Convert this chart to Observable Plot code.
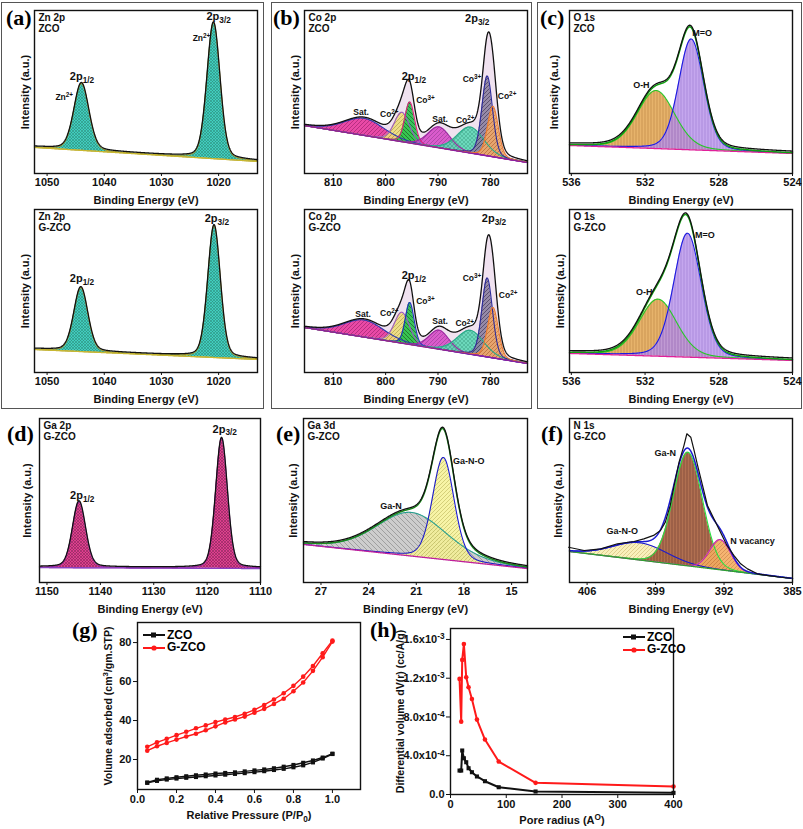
<!DOCTYPE html>
<html><head><meta charset="utf-8">
<script src="https://cdn.jsdelivr.net/npm/d3@7"></script>
<script src="https://cdn.jsdelivr.net/npm/@observablehq/plot@0.6"></script>
<style>
body{margin:0;background:#fff;}
#fig{position:relative;width:803px;height:829px;overflow:hidden;font-family:"Liberation Sans",Arial,sans-serif;}
.box{position:absolute;border:1.5px solid #555;box-sizing:border-box;}
.tag{position:absolute;font-family:"Liberation Serif","Times New Roman",serif;font-weight:bold;font-size:22px;line-height:1;}
.plot{position:absolute;}
.leg{position:absolute;font-weight:bold;font-size:12px;}
</style></head><body>
<svg width="0" height="0" style="position:absolute">
<defs>
<pattern id="pTeal" width="3" height="3" patternUnits="userSpaceOnUse"><rect width="3" height="3" fill="#2cc8b6"/><path d="M0,0L3,3M3,0L0,3" stroke="#16806f" stroke-width="0.6"/></pattern>
<pattern id="pPink" width="4" height="4" patternUnits="userSpaceOnUse"><rect width="4" height="4" fill="#e8389e"/><path d="M0,4L4,0" stroke="#9a1064" stroke-width="0.7"/></pattern>
<pattern id="pYellow" width="4" height="4" patternUnits="userSpaceOnUse"><rect width="4" height="4" fill="#eedc7a"/><path d="M0,4L4,0" stroke="#a89a3a" stroke-width="0.7"/></pattern>
<pattern id="pGreen" width="4" height="4" patternUnits="userSpaceOnUse"><rect width="4" height="4" fill="#24c24c"/><path d="M0,0L4,4" stroke="#0a5a1c" stroke-width="0.8"/></pattern>
<pattern id="pMag2" width="4" height="4" patternUnits="userSpaceOnUse"><rect width="4" height="4" fill="#d84cc8"/><path d="M0,4L4,0" stroke="#8a2a88" stroke-width="0.6"/></pattern>
<pattern id="pAqua" width="4" height="4" patternUnits="userSpaceOnUse"><rect width="4" height="4" fill="#5ed8b6"/><path d="M0,0L4,4M4,0L0,4" stroke="#2a9a7a" stroke-width="0.5"/></pattern>
<pattern id="pGray" width="4" height="4" patternUnits="userSpaceOnUse"><rect width="4" height="4" fill="#8c80a0"/><path d="M0,4L4,0" stroke="#3a3050" stroke-width="0.8"/></pattern>
<pattern id="pOrange" width="4" height="4" patternUnits="userSpaceOnUse"><rect width="4" height="4" fill="#f0a868"/><path d="M0,4L4,0" stroke="#c06830" stroke-width="0.7"/></pattern>
<pattern id="pOrangeV" width="3" height="4" patternUnits="userSpaceOnUse"><rect width="3" height="4" fill="#e2a24a"/><path d="M1,0L1,4" stroke="#b0701c" stroke-width="0.7"/></pattern>
<pattern id="pLav" width="3" height="4" patternUnits="userSpaceOnUse"><rect width="3" height="4" fill="#b894ea"/><path d="M1,0L1,4" stroke="#8a60cc" stroke-width="0.7"/></pattern>
<pattern id="pMag" width="3" height="3" patternUnits="userSpaceOnUse"><rect width="3" height="3" fill="#dc2a82"/><path d="M0,0L3,3M3,0L0,3" stroke="#7a1048" stroke-width="0.6"/></pattern>
<pattern id="pGrayE" width="5" height="5" patternUnits="userSpaceOnUse"><rect width="5" height="5" fill="#c4c4c4"/><path d="M0,0L5,5" stroke="#6a6a6a" stroke-width="0.6"/></pattern>
<pattern id="pYelE" width="4" height="4" patternUnits="userSpaceOnUse"><rect width="4" height="4" fill="#f6f296"/><path d="M0,4L4,0" stroke="#b0aa40" stroke-width="0.6"/></pattern>
<pattern id="pYelF" width="4" height="4" patternUnits="userSpaceOnUse"><rect width="4" height="4" fill="#f8eeb4"/><path d="M0,4L4,0" stroke="#c8b060" stroke-width="0.6"/></pattern>
<pattern id="pBrown" width="3" height="4" patternUnits="userSpaceOnUse"><rect width="3" height="4" fill="#a8603e"/><path d="M1,0L1,4" stroke="#6a3020" stroke-width="0.7"/></pattern>
<pattern id="pOrF" width="4" height="4" patternUnits="userSpaceOnUse"><rect width="4" height="4" fill="#f4ac62"/><path d="M0,4L4,0" stroke="#c07030" stroke-width="0.6"/></pattern>
</defs></svg>
<div id="fig"></div>
<script>
// ================= DATA =================
// (a) Zn 2p  — binding energy (eV), intensity (a.u., 0-100 frame units)
const znTicks = [1050, 1040, 1030, 1020];
const znDomain = [1052.2, 1013.2];
const znZcoBase = [16.0, 7.4];
const znZcoCenter = [1044.0, 1020.9];
const znZcoHeight = [41.0, 83.3];
const znZcoFwhm = [3.1, 2.7];
const znZcoLabelText = ["2p_{1/2}", "Zn^{2+}", "2p_{3/2}", "Zn^{2+}"];
const znZcoLabelBE = [1043.9, 1047.0, 1020.0, 1023.0];
const znZcoLabelI = [59.5, 46.8, 96.3, 83.2];
const znGzcoBase = [14.1, 8.0];
const znGzcoCenter = [1044.1, 1020.8];
const znGzcoHeight = [39.2, 80.9];
const znGzcoFwhm = [2.9, 2.6];
const znGzcoLabelText = ["2p_{1/2}", "2p_{3/2}"];
const znGzcoLabelBE = [1043.9, 1020.3];
const znGzcoLabelI = [57.5, 94.3];

// (b) Co 2p
const coTicks = [810, 800, 790, 780];
const coDomain = [815.5, 772.9];
const coNames = ["Sat.", "Co2+", "Co3+", "Sat.", "Co2+", "Co3+", "Co2+"];
const coCenter = [804.1, 796.9, 795.4, 789.8, 783.8, 780.6, 779.5];
const coZcoBase = [29.4, 6.7];
const coZcoHeight = [10.5, 18.1, 25.2, 12.9, 16.0, 49.0, 31.0];
const coZcoFwhm = [9.0, 3.4, 2.2, 5.0, 6.0, 2.4, 2.4];
const coGzcoBase = [27.6, 5.5];
const coGzcoHeight = [10.5, 19.0, 25.8, 11.7, 14.7, 48.5, 31.0];
const coGzcoFwhm = [9.0, 3.4, 2.0, 4.5, 6.0, 2.4, 2.4];
const coZcoLabelText = ["2p_{3/2}", "Co^{3+}", "Co^{2+}", "2p_{1/2}", "Co^{3+}", "Co^{2+}", "Sat.", "Sat.", "Co^{2+}"];
const coZcoLabelBE = [782.5, 783.5, 776.8, 794.6, 792.4, 799.3, 804.7, 789.6, 784.8];
const coZcoLabelI = [94.9, 58.1, 47.2, 59.5, 45.2, 36.6, 37.6, 33.1, 32.9];
const coGzcoLabelText = ["2p_{3/2}", "Co^{3+}", "Co^{2+}", "2p_{1/2}", "Co^{3+}", "Co^{2+}", "Sat.", "Sat.", "Co^{2+}"];
const coGzcoLabelBE = [779.3, 783.5, 776.6, 794.6, 792.4, 799.3, 804.3, 789.6, 784.9];
const coGzcoLabelI = [94.3, 57.9, 47.6, 59.5, 43.6, 36.6, 35.6, 31.3, 29.9];

// (c) O 1s
const oTicks = [536, 532, 528, 524];
const oDomain = [536.1, 524.0];
const oZcoBase = [17.2, 12.3];
const oZcoCenter = [531.4, 529.5];
const oZcoHeight = [35.6, 68.0];
const oZcoFwhm = [2.4, 1.6];
const oZcoLabelText = ["O-H", "M=O"];
const oZcoLabelBE = [532.2, 528.9];
const oZcoLabelI = [54.0, 86.3];
const oGzcoBase = [11.7, 7.4];
const oGzcoCenter = [531.3, 529.7];
const oGzcoHeight = [35.0, 76.0];
const oGzcoFwhm = [2.4, 1.75];
const oGzcoLabelText = ["O-H", "M=O"];
const oGzcoLabelBE = [532.05, 528.75];
const oGzcoLabelI = [49.3, 84.5];

// (d) Ga 2p
const ga2pTicks = [1150, 1140, 1130, 1120, 1110];
const ga2pDomain = [1151.4, 1110];
const ga2pBase = [9.1, 8.5];
const ga2pCenter = [1144.0, 1117.3];
const ga2pHeight = [40.2, 79.3];
const ga2pFwhm = [2.9, 2.6];
const ga2pLabelText = ["2p_{1/2}", "2p_{3/2}"];
const ga2pLabelBE = [1143.4, 1116.7];
const ga2pLabelI = [53.0, 93.3];

// (e) Ga 3d
const ga3dTicks = [27, 24, 21, 18, 15];
const ga3dDomain = [28.1, 14.0];
const ga3dBase = [23.2, 8.5];
const ga3dCenter = [21.3, 19.3];
const ga3dHeight = [26.6, 62.2];
const ga3dFwhm = [5.2, 1.6];
const ga3dLabelText = ["Ga-N", "Ga-N-O"];
const ga3dLabelBE = [22.6, 17.7];
const ga3dLabelI = [46.3, 73.8];

// (f) N 1s
const n1sTicks = [406, 399, 392, 385];
const n1sDomain = [407.8, 385];
const n1sBase = [18.9, 2.4];
const n1sCenter = [400.6, 395.7, 392.4];
const n1sHeight = [10.5, 69.3, 18.4];
const n1sFwhm = [6.5, 3.5, 2.5];
const n1sRawBE = [407.9, 406.3, 404.6, 402.9, 401.2, 400.2, 399.2, 398.5, 398.0, 397.5, 397.1, 396.6, 396.1, 395.8, 395.4, 395.1, 394.7, 394.2, 393.7, 393.2, 392.7, 392.2, 391.7, 391.0, 390.3, 389.6, 388.6, 387.6, 386.2, 385.2];
const n1sRawI = [21.5, 19.5, 20.5, 23.6, 25.0, 26.6, 28.7, 31.7, 36.8, 47.0, 59.2, 73.4, 83.5, 90.7, 88.6, 81.5, 71.3, 59.2, 47.0, 40.9, 34.8, 28.7, 22.6, 16.5, 11.4, 8.3, 5.3, 4.3, 3.2, 2.6];
const n1sLabelText = ["Ga-N", "Ga-N-O", "N vacancy"];
const n1sLabelBE = [398.0, 402.4, 389.1];
const n1sLabelI = [79.1, 31.1, 25.0];

// (g) N2 isotherms
const relP = [0.05, 0.10, 0.15, 0.20, 0.25, 0.30, 0.35, 0.40, 0.45, 0.50, 0.55, 0.60, 0.65, 0.70, 0.75, 0.80, 0.85, 0.90, 0.95, 1.00];
const zcoAds = [8.0, 9.0, 9.7, 10.2, 10.6, 11.0, 11.4, 11.8, 12.2, 12.6, 13.0, 13.5, 14.0, 14.6, 15.2, 16.0, 17.0, 18.5, 20.5, 22.8];
const zcoDes = [8.2, 9.6, 10.3, 10.9, 11.4, 11.9, 12.3, 12.8, 13.1, 13.4, 13.9, 14.4, 14.9, 15.5, 16.3, 17.2, 18.3, 19.5, 21.0, 23.0];
const gzcoAds = [24.5, 26.8, 28.5, 30.2, 31.8, 33.2, 35.0, 37.0, 39.0, 40.5, 42.0, 44.0, 46.0, 48.5, 51.2, 55.0, 59.5, 65.5, 72.5, 80.5];
const gzcoDes = [26.5, 28.8, 30.6, 32.5, 34.2, 36.0, 37.5, 39.2, 40.5, 41.8, 43.5, 45.5, 48.0, 50.8, 54.0, 57.8, 62.5, 68.0, 74.5, 81.0];
const gTicksX = [0, 0.2, 0.4, 0.6, 0.8, 1.0];
const gTicksY = [20, 40, 60, 80];

// (h) pore size distribution
const poreR = [16.2, 19.2, 21.0, 24.0, 28.2, 32.4, 38.4, 47.4, 61.8, 86.5, 152.6, 400];
const zcoDV = [0.247e-3, 0.247e-3, 0.454e-3, 0.374e-3, 0.333e-3, 0.271e-3, 0.230e-3, 0.186e-3, 0.137e-3, 0.075e-3, 0.031e-3, 0.017e-3];
const gzcoDV = [1.193e-3, 0.752e-3, 1.389e-3, 1.553e-3, 1.210e-3, 1.106e-3, 0.986e-3, 0.773e-3, 0.567e-3, 0.340e-3, 0.120e-3, 0.082e-3];
const hTicksX = [0, 100, 200, 300, 400];
const hTicksY = [0, 4e-4, 8e-4, 1.2e-3, 1.6e-3];
const hTickLabels = ["0.0", "4.0x10^{-4}", "8.0x10^{-4}", "1.2x10^{-3}", "1.6x10^{-3}"];

// ================= RENDER =================
const FONT = '"Liberation Sans", Arial, Helvetica, sans-serif';
const NS = "http://www.w3.org/2000/svg";
const fig = document.getElementById("fig");

function pv(x, c, h, w, eta) { const u = (x - c) / w; return h * ((1 - eta) * Math.exp(-4 * Math.LN2 * u * u) + eta / (1 + 4 * u * u)); }

function richText(svg) {
  svg.querySelectorAll("text").forEach(t => {
    const tsp = [...t.querySelectorAll("tspan")];
    const leaves = tsp.length ? tsp : [t];
    leaves.forEach(el => {
      const s = el.textContent;
      if (!/[_^]\{/.test(s)) return;
      el.textContent = "";
      const re = /([_^])\{([^}]*)\}/g;
      let last = 0, m, pending = 0;
      const add = (txt, dy, small) => {
        const sp = document.createElementNS(NS, "tspan");
        sp.textContent = txt;
        if (dy) sp.setAttribute("dy", dy + "em");
        if (small) sp.setAttribute("font-size", "75%");
        el.appendChild(sp);
      };
      while ((m = re.exec(s))) {
        if (m.index > last) { add(s.slice(last, m.index), pending, false); pending = 0; }
        if (m[1] === "_") { add(m[2], 0.3 + pending / 0.75, true); pending = -0.225; }
        else { add(m[2], -0.45 + pending / 0.75, true); pending = 0.34; }
        last = re.lastIndex;
      }
      if (last < s.length) add(s.slice(last), pending, false);
    });
  });
}

function place(svg, left, top) {
  svg.classList.add("plot");
  svg.style.position = "absolute";
  svg.style.left = left + "px";
  svg.style.top = top + "px";
  richText(svg);
  fig.appendChild(svg);
}

function labelSize(t) { return t.startsWith("2p") ? 11 : (t.startsWith("Co") || t.startsWith("Zn") || t === "Sat.") ? 8.5 : 9; }

const yLab = (txt, dx, size) => Plot.text([txt], {text: d => d, frameAnchor: "left", textAnchor: "middle", lineAnchor: "middle", rotate: -90, dx, fontSize: size});
const xLab = (txt, dy) => Plot.text([txt], {text: d => d, frameAnchor: "bottom", textAnchor: "middle", lineAnchor: "middle", dy, fontSize: 11});

function xps(o) {
  const [fl, ft, fr, fb] = o.frame;
  const mL = 30, mR = 6, mT = 2, mB = 36;
  const [d0, d1] = o.domain;
  const eta = o.eta ?? 0.2;
  const base = x => o.base[0] + (o.base[1] - o.base[0]) * (x - d0) / (d1 - d0);
  const lo = Math.min(d0, d1), hi = Math.max(d0, d1);
  const grid = d3.range(0, 601).map(i => lo + (hi - lo) * i / 600);
  const n = o.center.length;
  const comp = (k, x) => pv(x, o.center[k], o.height[k], o.fwhm[k], eta);
  const env = x => base(x) + d3.sum(d3.range(n), k => comp(k, x));
  const marks = [];
  if (o.envFill) marks.push(Plot.areaY(grid, {x: d => d, y1: base, y2: env, fill: o.envFill}));
  for (let k = 0; k < n; k++)
    marks.push(Plot.areaY(grid, {x: d => d, y1: base, y2: d => base(d) + comp(k, d), fill: o.fills[k], fillOpacity: o.fillOpacity ?? 0.9}));
  for (let k = 0; k < n; k++)
    marks.push(Plot.line(grid, {x: d => d, y: d => base(d) + comp(k, d), stroke: o.strokes[k], strokeWidth: 1.1}));
  marks.push(Plot.line(grid, {x: d => d, y: base, stroke: o.baseStroke, strokeWidth: 1.3}));
  if (o.envStroke) marks.push(Plot.line(grid, {x: d => d, y: env, stroke: o.envStroke, strokeWidth: 1.5}));
  if (o.rawX) {
    const raw = o.rawX.map((x, i) => ({x, y: o.rawY[i]}));
    marks.push(Plot.line(raw, {x: "x", y: "y", stroke: "#111", strokeWidth: 1.2}));
  } else {
    marks.push(Plot.line(grid, {x: d => d, y: env, stroke: "#111", strokeWidth: 1.3, dy: o.rawDy ?? -1}));
  }
  marks.push(Plot.frame({stroke: "#111", strokeWidth: 1.4}));
  marks.push(Plot.axisX({ticks: o.ticks, tickSize: 3, tickPadding: 2, tickFormat: d => String(d), label: null}));
  marks.push(Plot.text([o.title], {text: d => d, frameAnchor: "top-left", textAnchor: "start", lineAnchor: "top", dx: 4, dy: 3, fontSize: 10, lineHeight: 1.1}));
  marks.push(yLab("Intensity (a.u.)", o.ylabDx, 11));
  marks.push(xLab("Binding Energy (eV)", 27));
  const labs = o.labText.map((t, i) => ({t, x: o.labX[i], y: o.labY[i]}));
  marks.push(Plot.text(labs, {x: "x", y: "y", text: "t", fontSize: d => labelSize(d.t)}));
  const svg = Plot.plot({
    width: fr - fl + mL + mR, height: fb - ft + mT + mB,
    marginLeft: mL, marginRight: mR, marginTop: mT, marginBottom: mB,
    x: {domain: o.domain}, y: {domain: [0, 100], axis: null},
    style: {fontFamily: FONT, fontWeight: "bold", fontSize: "11px", background: "transparent", color: "#111", overflow: "visible"},
    marks
  });
  place(svg, fl - mL, ft - mT);
}

// panel boxes and tags
function box(l, t, w, h) { const d = document.createElement("div"); d.className = "box"; Object.assign(d.style, {left: l + "px", top: t + "px", width: w + "px", height: h + "px"}); fig.appendChild(d); }
function tag(txt, l, t) { const d = document.createElement("div"); d.className = "tag"; d.textContent = txt; Object.assign(d.style, {left: l + "px", top: t + "px"}); fig.appendChild(d); }
box(1, 2, 263, 407); box(271, 2, 261, 407); box(537, 2, 265, 407);

const aFills = ["url(#pTeal)", "url(#pTeal)"], aStrokes = ["#a8982a", "#a8982a"];
xps({frame: [34, 10, 257, 173], domain: znDomain, ticks: znTicks, base: znZcoBase, center: znZcoCenter, height: znZcoHeight, fwhm: znZcoFwhm,
  fills: aFills, strokes: aStrokes, baseStroke: "#c8b832", title: "Zn 2p\nZCO", ylabDx: -9, labText: znZcoLabelText, labX: znZcoLabelBE, labY: znZcoLabelI});
xps({frame: [34, 209, 257, 372], domain: znDomain, ticks: znTicks, base: znGzcoBase, center: znGzcoCenter, height: znGzcoHeight, fwhm: znGzcoFwhm,
  fills: aFills, strokes: aStrokes, baseStroke: "#c8b832", title: "Zn 2p\nG-ZCO", ylabDx: -9, labText: znGzcoLabelText, labX: znGzcoLabelBE, labY: znGzcoLabelI});

const bFills = ["url(#pPink)", "url(#pYellow)", "url(#pGreen)", "url(#pMag2)", "url(#pAqua)", "url(#pGray)", "url(#pOrange)"];
const bStrokes = ["#2c3cb0", "#9a58c8", "#e0207a", "#9a2aa0", "#2aa888", "#2a2a9a", "#e87830"];
xps({frame: [304, 10, 527, 173], domain: coDomain, ticks: coTicks, base: coZcoBase, center: coCenter, height: coZcoHeight, fwhm: coZcoFwhm,
  fills: bFills, strokes: bStrokes, envFill: "#f0e2f0", baseStroke: "#8a20a0", title: "Co 2p\nZCO", ylabDx: -9, labText: coZcoLabelText, labX: coZcoLabelBE, labY: coZcoLabelI, rawDy: -0.5});
xps({frame: [304, 209, 527, 372], domain: coDomain, ticks: coTicks, base: coGzcoBase, center: coCenter, height: coGzcoHeight, fwhm: coGzcoFwhm,
  fills: bFills, strokes: ["#2c3cb0", "#9a58c8", "#2030c0", "#9a2aa0", "#2aa888", "#2a2a9a", "#e87830"], envFill: "#f0e2f0", baseStroke: "#8a20a0", title: "Co 2p\nG-ZCO", ylabDx: -9, labText: coGzcoLabelText, labX: coGzcoLabelBE, labY: coGzcoLabelI, rawDy: -0.5});

const cFills = ["url(#pOrangeV)", "url(#pLav)"], cStrokes = ["#28c828", "#1a1ae0"];
xps({frame: [569, 10, 792, 173], domain: oDomain, ticks: oTicks, base: oZcoBase, center: oZcoCenter, height: oZcoHeight, fwhm: oZcoFwhm,
  fills: cFills, strokes: cStrokes, envStroke: "#10a010", baseStroke: "#e0209a", fillOpacity: 0.82, title: "O 1s\nZCO", ylabDx: -15, labText: oZcoLabelText, labX: oZcoLabelBE, labY: oZcoLabelI, rawDy: -1.6});
xps({frame: [569, 209, 792, 372], domain: oDomain, ticks: oTicks, base: oGzcoBase, center: oGzcoCenter, height: oGzcoHeight, fwhm: oGzcoFwhm,
  fills: cFills, strokes: cStrokes, envStroke: "#10a010", baseStroke: "#e0209a", fillOpacity: 0.82, title: "O 1s\nG-ZCO", ylabDx: -9, labText: oGzcoLabelText, labX: oGzcoLabelBE, labY: oGzcoLabelI, rawDy: -1.6});

xps({frame: [39, 418, 260, 582], domain: ga2pDomain, ticks: ga2pTicks, base: ga2pBase, center: ga2pCenter, height: ga2pHeight, fwhm: ga2pFwhm,
  fills: ["url(#pMag)", "url(#pMag)"], strokes: ["#9a2aa8", "#9a2aa8"], baseStroke: "#8a40c0", title: "Ga 2p\nG-ZCO", ylabDx: -12, labText: ga2pLabelText, labX: ga2pLabelBE, labY: ga2pLabelI});
xps({frame: [303, 418, 527, 582], domain: ga3dDomain, ticks: ga3dTicks, base: ga3dBase, center: ga3dCenter, height: ga3dHeight, fwhm: ga3dFwhm,
  fills: ["url(#pGrayE)", "url(#pYelE)"], strokes: ["#2aa090", "#1a1ad0"], envStroke: "#1a8a1a", baseStroke: "#c0209a", fillOpacity: 0.85, title: "Ga 3d\nG-ZCO", ylabDx: -10, labText: ga3dLabelText, labX: ga3dLabelBE, labY: ga3dLabelI, rawDy: -1.3});
xps({frame: [569, 418, 792, 582], domain: n1sDomain, ticks: n1sTicks, base: n1sBase, center: n1sCenter, height: n1sHeight, fwhm: n1sFwhm, eta: 0.05,
  fills: ["url(#pYelF)", "url(#pBrown)", "url(#pOrF)"], strokes: ["#1a1ad0", "#28e040", "#c020c0"], envStroke: "#1a1ad0", baseStroke: "#30a030", fillOpacity: 0.9, title: "N 1s\nG-ZCO", ylabDx: -11, labText: n1sLabelText, labX: n1sLabelBE, labY: n1sLabelI, rawX: n1sRawBE, rawY: n1sRawI});

tag("(a)", 6, 7); tag("(b)", 273, 7); tag("(c)", 540, 7);
tag("(d)", 7, 423); tag("(e)", 276, 423); tag("(f)", 541, 423);
tag("(g)", 72, 619); tag("(h)", 370, 619);

// (g) isotherm
(function () {
  const fl = 137, ft = 622, fr = 360, fb = 789, mL = 60, mR = 6, mT = 2, mB = 34;
  const mk = (ys) => relP.map((p, i) => ({x: p, y: ys[i]}));
  const series = [[zcoAds, "#111", "square"], [zcoDes, "#111", "square"], [gzcoAds, "#ff1a1a", "circle"], [gzcoDes, "#ff1a1a", "circle"]];
  const marks = [];
  series.forEach(([ys, c]) => marks.push(Plot.line(mk(ys), {x: "x", y: "y", stroke: c, strokeWidth: 1.4})));
  series.forEach(([ys, c, s]) => marks.push(Plot.dot(mk(ys), {x: "x", y: "y", fill: c, symbol: s, r: 2.3})));
  marks.push(Plot.frame({stroke: "#111", strokeWidth: 1.4}));
  marks.push(Plot.axisX({ticks: gTicksX, tickSize: 4, tickPadding: 2, tickFormat: d => d.toFixed(1), label: null}));
  marks.push(Plot.axisY({ticks: gTicksY, tickSize: 4, tickPadding: 2, tickFormat: d => String(d), label: null}));
  marks.push(xLab("Relative Pressure (P/P_{0})", 26));
  marks.push(yLab("Volume adsorbed (cm^{3}/gm.STP)", -29, 10.5));
  const svg = Plot.plot({
    width: fr - fl + mL + mR, height: fb - ft + mT + mB, marginLeft: mL, marginRight: mR, marginTop: mT, marginBottom: mB,
    x: {domain: [0, 1.144]}, y: {domain: [4.6, 90.3]},
    style: {fontFamily: FONT, fontWeight: "bold", fontSize: "11px", background: "transparent", color: "#111", overflow: "visible"},
    marks
  });
  place(svg, fl - mL, ft - mT);
})();

// (h) pore size distribution
(function () {
  const fl = 450, ft = 628, fr = 673, fb = 794, mL = 72, mR = 6, mT = 2, mB = 34;
  const z = poreR.map((r, i) => ({x: r, y: zcoDV[i]}));
  const g = poreR.map((r, i) => ({x: r, y: gzcoDV[i]}));
  const marks = [
    Plot.line(z, {x: "x", y: "y", stroke: "#111", strokeWidth: 2}),
    Plot.line(g, {x: "x", y: "y", stroke: "#ff1a1a", strokeWidth: 2}),
    Plot.dot(z, {x: "x", y: "y", fill: "#111", symbol: "square", r: 2.3}),
    Plot.dot(g, {x: "x", y: "y", fill: "#ff1a1a", symbol: "circle", r: 2.3}),
    Plot.frame({stroke: "#111", strokeWidth: 1.4}),
    Plot.axisX({ticks: hTicksX, tickSize: 4, tickPadding: 2, tickFormat: d => String(d), label: null}),
    Plot.axisY({ticks: hTicksY, tickSize: 4, tickPadding: 2, tickFormat: d => hTickLabels[hTicksY.indexOf(d)], label: null}),
    xLab("Pore radius (A^{O})", 26),
    yLab("Differential volume dV(r) (cc/A/g)", -50, 10.5)
  ];
  const svg = Plot.plot({
    width: fr - fl + mL + mR, height: fb - ft + mT + mB, marginLeft: mL, marginRight: mR, marginTop: mT, marginBottom: mB,
    x: {domain: [0, 400]}, y: {domain: [0, 1.713e-3]},
    style: {fontFamily: FONT, fontWeight: "bold", fontSize: "11px", background: "transparent", color: "#111", overflow: "visible"},
    marks
  });
  place(svg, fl - mL, ft - mT);
})();

// legends
function legend(x, y, rows) {
  rows.forEach(([label, color, shape], i) => {
    const s = document.createElementNS(NS, "svg");
    s.setAttribute("width", 24); s.setAttribute("height", 10);
    Object.assign(s.style, {position: "absolute", left: x + "px", top: (y + i * 12.5 - 5) + "px"});
    s.innerHTML = `<line x1="1" y1="5" x2="23" y2="5" stroke="${color}" stroke-width="2"/>` +
      (shape === "square" ? `<rect x="9" y="2.5" width="5" height="5" fill="${color}"/>` : `<circle cx="12" cy="5" r="2.6" fill="${color}"/>`);
    fig.appendChild(s);
    const t = document.createElement("div");
    t.className = "leg"; t.textContent = label;
    Object.assign(t.style, {left: (x + 25) + "px", top: (y + i * 12.5 - 7.5) + "px"});
    fig.appendChild(t);
  });
}
legend(142, 635, [["ZCO", "#111", "square"], ["G-ZCO", "#ff1a1a", "circle"]]);
legend(622, 637, [["ZCO", "#111", "square"], ["G-ZCO", "#ff1a1a", "circle"]]);
</script></body></html>
